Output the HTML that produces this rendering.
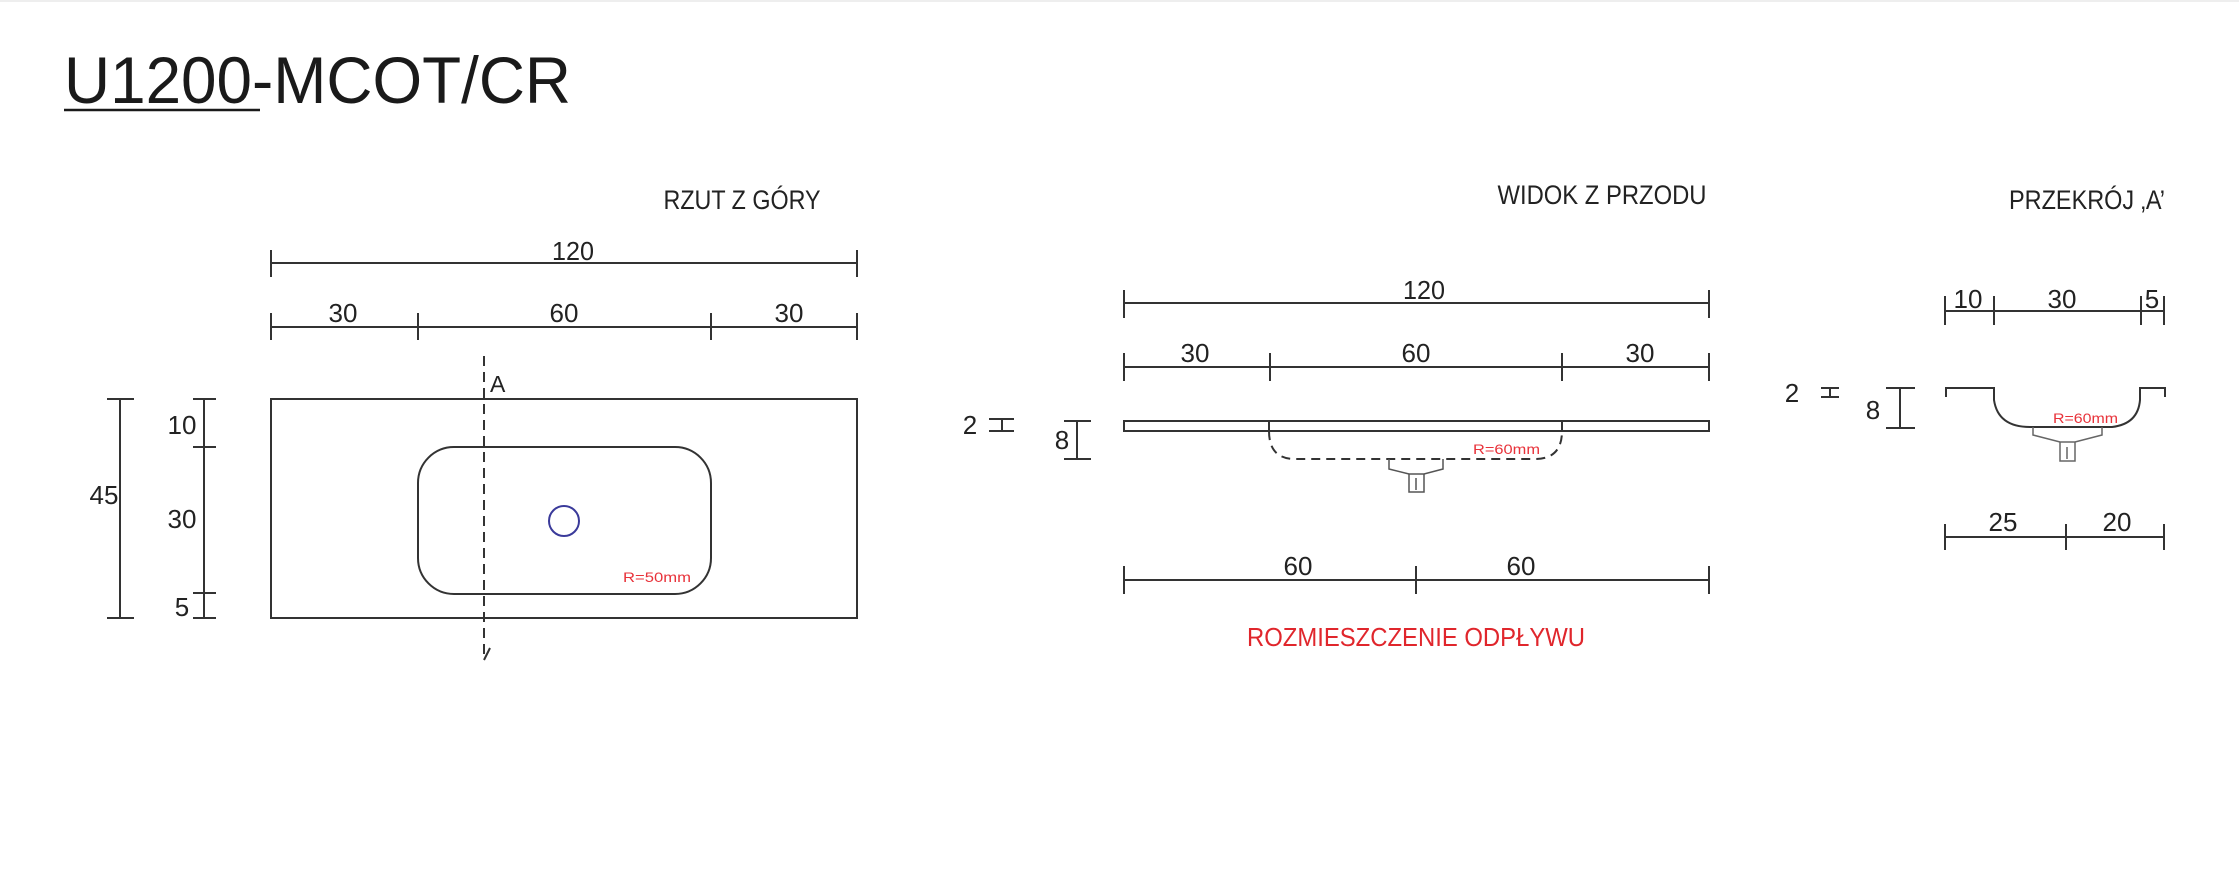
<!DOCTYPE html>
<html><head><meta charset="utf-8"><style>
html,body{margin:0;padding:0;background:#fff;}
svg{display:block;}
text{font-family:"Liberation Sans",sans-serif;}
</style></head><body>
<svg width="2239" height="877" viewBox="0 0 2239 877" xmlns="http://www.w3.org/2000/svg">
<rect width="2239" height="877" fill="#fff"/>
<line x1="0" y1="1" x2="2239" y2="1" stroke="#eee" stroke-width="2"/>
<g fill="#222">
<text x="64" y="103" font-size="66" textLength="507" lengthAdjust="spacingAndGlyphs" fill="#1a1a1a">U1200-MCOT/CR</text>
<g font-size="27" text-anchor="middle">
<text x="742" y="209" textLength="157" lengthAdjust="spacingAndGlyphs">RZUT Z GÓRY</text>
<text x="1602" y="204" textLength="209" lengthAdjust="spacingAndGlyphs">WIDOK Z PRZODU</text>
<text x="2087" y="209" textLength="156" lengthAdjust="spacingAndGlyphs">PRZEKRÓJ ‚A’</text>
</g>
</g>
<line x1="64" y1="110" x2="260" y2="110" stroke="#1a1a1a" stroke-width="2.5"/>

<g stroke="#333" stroke-width="2" fill="none">
<line x1="271" y1="263" x2="857" y2="263"/>
<line x1="271" y1="250" x2="271" y2="277"/><line x1="857" y1="250" x2="857" y2="277"/>
<line x1="271" y1="327" x2="857" y2="327"/>
<line x1="271" y1="313" x2="271" y2="340"/><line x1="418" y1="313" x2="418" y2="340"/>
<line x1="711" y1="313" x2="711" y2="340"/><line x1="857" y1="313" x2="857" y2="340"/>
<rect x="271" y="399" width="586" height="219"/>
<rect x="418" y="447" width="293" height="147" rx="36" ry="36"/>
<line x1="484" y1="356" x2="484" y2="660" stroke-dasharray="10,6"/>
<line x1="484" y1="660" x2="490" y2="648"/>
<line x1="120" y1="399" x2="120" y2="618"/>
<line x1="107" y1="399" x2="134" y2="399"/><line x1="107" y1="618" x2="134" y2="618"/>
<line x1="204" y1="399" x2="204" y2="618"/>
<line x1="193" y1="399" x2="216" y2="399"/><line x1="193" y1="447" x2="216" y2="447"/>
<line x1="193" y1="593" x2="216" y2="593"/><line x1="193" y1="618" x2="216" y2="618"/>

<line x1="1124" y1="303" x2="1709" y2="303"/>
<line x1="1124" y1="290" x2="1124" y2="318"/><line x1="1709" y1="290" x2="1709" y2="318"/>
<line x1="1124" y1="367" x2="1709" y2="367"/>
<line x1="1124" y1="353" x2="1124" y2="381"/><line x1="1270" y1="353" x2="1270" y2="381"/>
<line x1="1562" y1="353" x2="1562" y2="381"/><line x1="1709" y1="353" x2="1709" y2="381"/>
<rect x="1124" y="421" width="585" height="10"/>
<line x1="1269" y1="421" x2="1269" y2="431"/><line x1="1562" y1="421" x2="1562" y2="431"/>
<path d="M1269 431 Q1269 459 1295 459 L1535 459 Q1562 459 1562 431" stroke-dasharray="9,6"/>
<path d="M1389 459 L1389 469 L1409 474 L1424 474 L1443 469 L1443 459" stroke="#555" stroke-width="1.5"/>
<path d="M1409 474 L1409 492 L1424 492 L1424 474 M1416 478 L1416 490" stroke="#555" stroke-width="1.5"/>
<line x1="989" y1="419" x2="1014" y2="419"/><line x1="989" y1="431" x2="1014" y2="431"/><line x1="1002" y1="419" x2="1002" y2="431"/>
<line x1="1077" y1="421" x2="1077" y2="459"/>
<line x1="1064" y1="421" x2="1091" y2="421"/><line x1="1064" y1="459" x2="1091" y2="459"/>
<line x1="1124" y1="580" x2="1709" y2="580"/>
<line x1="1124" y1="566" x2="1124" y2="594"/><line x1="1416" y1="566" x2="1416" y2="594"/><line x1="1709" y1="566" x2="1709" y2="594"/>

<line x1="1945" y1="311" x2="2164" y2="311"/>
<line x1="1945" y1="296" x2="1945" y2="325"/><line x1="1994" y1="296" x2="1994" y2="325"/>
<line x1="2141" y1="296" x2="2141" y2="325"/><line x1="2164" y1="296" x2="2164" y2="325"/>
<line x1="1821" y1="388" x2="1839" y2="388"/><line x1="1821" y1="397" x2="1839" y2="397"/><line x1="1830" y1="388" x2="1830" y2="397"/>
<line x1="1900" y1="388" x2="1900" y2="428"/>
<line x1="1886" y1="388" x2="1915" y2="388"/><line x1="1886" y1="428" x2="1915" y2="428"/>
<path d="M1946 397 L1946 388 L1994 388 L1994 400 Q1998 427 2030 427 L2112 427 Q2138 424 2140 400 L2140 388 L2165 388 L2165 397"/>
<path d="M2033 427 L2033 435 L2060 442 L2075 442 L2102 435 L2102 427" stroke="#666" stroke-width="1.5"/>
<path d="M2060 442 L2060 461 L2075 461 L2075 442 M2067 447 L2067 459" stroke="#666" stroke-width="1.5"/>
<line x1="1945" y1="537" x2="2164" y2="537"/>
<line x1="1945" y1="524" x2="1945" y2="550"/><line x1="2066" y1="524" x2="2066" y2="550"/><line x1="2164" y1="524" x2="2164" y2="550"/>
</g>
<circle cx="564" cy="521" r="15" fill="none" stroke="#3a3a9a" stroke-width="2"/>

<g font-size="26" text-anchor="middle" fill="#222">
<text x="573" y="260" textLength="42" lengthAdjust="spacingAndGlyphs">120</text>
<text x="343" y="322">30</text><text x="564" y="322">60</text><text x="789" y="322">30</text>
<text x="104" y="504">45</text>
<text x="182" y="434">10</text><text x="182" y="528">30</text><text x="182" y="616">5</text>
<text x="1424" y="299" textLength="42" lengthAdjust="spacingAndGlyphs">120</text>
<text x="1195" y="362">30</text><text x="1416" y="362">60</text><text x="1640" y="362">30</text>
<text x="970" y="434">2</text><text x="1062" y="449">8</text>
<text x="1298" y="575">60</text><text x="1521" y="575">60</text>
<text x="1968" y="308">10</text><text x="2062" y="308">30</text><text x="2152" y="308">5</text>
<text x="1792" y="402">2</text><text x="1873" y="419">8</text>
<text x="2003" y="531">25</text><text x="2117" y="531">20</text>
</g>
<text x="490" y="392" font-size="23" fill="#222">A</text>
<g font-size="14">
<text x="623" y="582" style="fill:#e8323a" textLength="68" lengthAdjust="spacingAndGlyphs">R=50mm</text>
<text x="1473" y="454" style="fill:#e8323a" textLength="67" lengthAdjust="spacingAndGlyphs">R=60mm</text>
<text x="2053" y="423" style="fill:#e8323a" textLength="65" lengthAdjust="spacingAndGlyphs">R=60mm</text>
</g>
<text x="1416" y="646" font-size="26" text-anchor="middle" style="fill:#e0262c" textLength="338" lengthAdjust="spacingAndGlyphs">ROZMIESZCZENIE ODPŁYWU</text>
</svg>
</body></html>
